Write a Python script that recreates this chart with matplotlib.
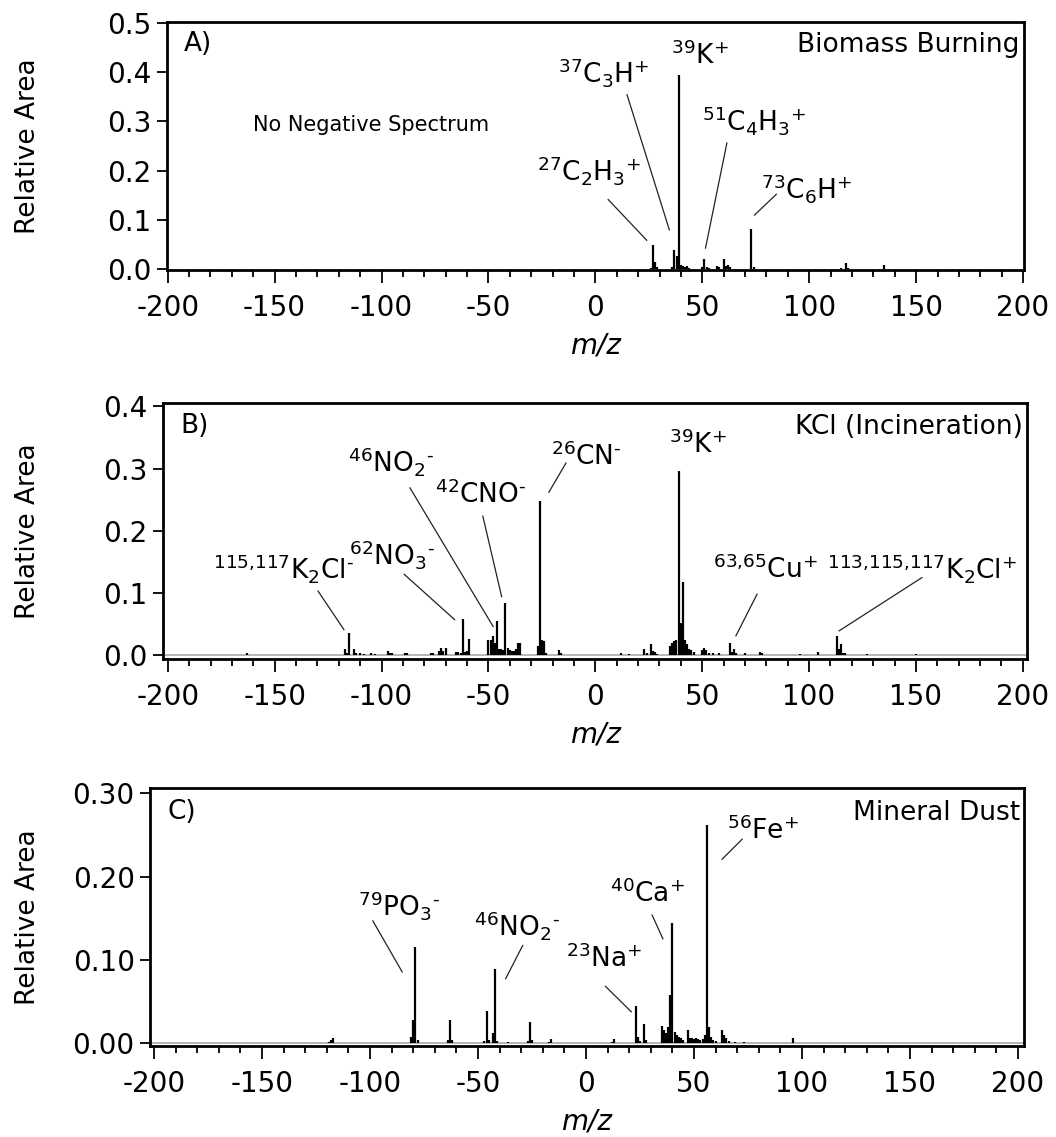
import matplotlib
matplotlib.use("Agg")
import matplotlib.pyplot as plt
from matplotlib.ticker import MultipleLocator, FixedLocator, FixedFormatter

plt.rcParams["font.family"] = ["DejaVu Sans"]
plt.rcParams["mathtext.fontset"] = "dejavusans"

# ---------------- spectra (m/z, relative area); negative m/z = anion spectrum ----------------
a_mz = [26, 27, 28, 29, 36, 37, 38, 39, 40, 41, 42, 43, 44, 50, 51, 52, 53,
        57, 58, 60, 61, 62, 63, 73, 74, 115, 117, 118, 135]
a_area = [0.003, 0.050, 0.014, 0.004, 0.004, 0.040, 0.027, 0.393, 0.008, 0.006,
          0.004, 0.006, 0.003, 0.005, 0.020, 0.004, 0.003, 0.006, 0.004, 0.020,
          0.006, 0.008, 0.004, 0.081, 0.004, 0.003, 0.012, 0.003, 0.008]

b_mz = [-163, -117, -116, -115, -113, -112, -110, -108, -105, -103, -97, -96, -95,
        -89, -88, -77, -76, -73, -72, -71, -70, -65, -64, -63, -62, -61, -60, -59,
        -50, -49, -48, -47, -46, -45, -44, -43, -42, -41, -40, -39, -38, -37, -36,
        -35, -27, -26, -25, -24, -23, -17, -16,
        12, 16, 23, 24, 26, 27, 28, 29, 35, 36, 37, 38, 39, 40, 41, 42, 43, 44, 45,
        46, 50, 51, 52, 53, 55, 58, 63, 64, 65, 66, 70, 77, 78, 96, 104, 113, 114,
        115, 116, 117, 127, 150]
b_area = [0.004, 0.009, 0.003, 0.035, 0.010, 0.003, 0.003, 0.002, 0.003, 0.002,
          0.007, 0.003, 0.004, 0.004, 0.004, 0.003, 0.004, 0.007, 0.012, 0.006,
          0.012, 0.005, 0.005, 0.004, 0.058, 0.005, 0.006, 0.026,
          0.025, 0.024, 0.030, 0.020, 0.054, 0.010, 0.010, 0.008, 0.083, 0.011,
          0.008, 0.007, 0.007, 0.010, 0.020, 0.020, 0.014, 0.248, 0.024, 0.022,
          0.004, 0.008, 0.003,
          0.003, 0.002, 0.010, 0.004, 0.018, 0.006, 0.005, 0.002, 0.015, 0.020,
          0.023, 0.025, 0.296, 0.052, 0.118, 0.025, 0.017, 0.010, 0.008, 0.005,
          0.008, 0.012, 0.008, 0.004, 0.003, 0.003, 0.020, 0.005, 0.009, 0.003,
          0.003, 0.005, 0.003, 0.002, 0.005, 0.031, 0.009, 0.017, 0.003, 0.004,
          0.002, 0.002]

c_mz = [-119, -118, -117, -81, -80, -79, -78, -64, -63, -62, -47, -46, -45, -43,
        -42, -41, -36, -27, -26, -25, -17, -16,
        12, 13, 23, 24, 25, 27, 28, 35, 36, 37, 38, 39, 40, 41, 42, 43, 44, 45,
        47, 48, 49, 50, 51, 52, 53, 54, 55, 56, 57, 58, 59, 60, 63, 64, 65, 66,
        69, 73, 96]
c_area = [0.002, 0.004, 0.006, 0.008, 0.028, 0.116, 0.004, 0.004, 0.028, 0.004,
          0.003, 0.039, 0.004, 0.012, 0.089, 0.003, 0.002, 0.003, 0.026, 0.004,
          0.002, 0.005,
          0.002, 0.005, 0.045, 0.008, 0.003, 0.023, 0.004, 0.021, 0.016, 0.012,
          0.020, 0.058, 0.144, 0.014, 0.010, 0.008, 0.006, 0.004,
          0.016, 0.007, 0.006, 0.005, 0.006, 0.005, 0.004, 0.005, 0.010, 0.262,
          0.020, 0.008, 0.004, 0.003, 0.016, 0.010, 0.006, 0.003,
          0.002, 0.002, 0.007]

# ---------------- y tick labels ----------------
a_yticks = [0.0, 0.1, 0.2, 0.3, 0.4, 0.5]
a_yticklabels = ["0.0", "0.1", "0.2", "0.3", "0.4", "0.5"]
b_yticks = [0.0, 0.1, 0.2, 0.3, 0.4]
b_yticklabels = ["0.0", "0.1", "0.2", "0.3", "0.4"]
c_yticks = [0.0, 0.1, 0.2, 0.3]
c_yticklabels = ["0.00", "0.10", "0.20", "0.30"]

x_ticks = [-200, -150, -100, -50, 0, 50, 100, 150, 200]
x_ticklabels = ["-200", "-150", "-100", "-50", "0", "50", "100", "150", "200"]

# ---------------- peak assignments ----------------
NEG = r"$^{\text{-}}$"
a_labels = [r"$^{27}$C$_2$H$_3$$^{+}$", r"$^{37}$C$_3$H$^{+}$", r"$^{39}$K$^{+}$",
            r"$^{51}$C$_4$H$_3$$^{+}$", r"$^{73}$C$_6$H$^{+}$"]
b_labels = [r"$^{115{,}117}$K$_2$Cl" + NEG, r"$^{62}$NO$_3$" + NEG, r"$^{46}$NO$_2$" + NEG,
            r"$^{42}$CNO" + NEG, r"$^{26}$CN" + NEG, r"$^{39}$K$^{+}$",
            r"$^{63{,}65}$Cu$^{+}$", r"$^{113{,}115{,}117}$K$_2$Cl$^{+}$"]
c_labels = [r"$^{79}$PO$_3$" + NEG, r"$^{46}$NO$_2$" + NEG, r"$^{23}$Na$^{+}$",
            r"$^{40}$Ca$^{+}$", r"$^{56}$Fe$^{+}$"]

# label anchor (x, y) and leader line ((x0, y0), (x1, y1)) in data units
a_label_pos = [(-3, 0.200), (4, 0.400), (49, 0.433), (74, 0.302), (99, 0.164)]
a_leaders = [((6, 0.1415), (24, 0.059)), ((14.8, 0.354), (34.6, 0.080)), None,
             ((61.5, 0.256), (51.5, 0.043)), ((84.6, 0.152), (74.4, 0.110))]
b_label_pos = [(-146, 0.140), (-95, 0.162), (-95.5, 0.311), (-53.8, 0.258),
               (-4, 0.319), (48, 0.338), (79.5, 0.138), (153, 0.140)]
b_leaders = [((-129.7, 0.103), (-117.6, 0.041)), ((-89.4, 0.130), (-65.8, 0.057)),
             ((-86.7, 0.269), (-47.8, 0.046)), ((-52.6, 0.2235), (-43.8, 0.094)),
             ((-13.7, 0.309), (-21.7, 0.262)), None,
             ((75.7, 0.098), (65.8, 0.031)), ((152.8, 0.1246), (114.1, 0.039))]
c_label_pos = [(-86.6, 0.165), (-32, 0.141), (8.5, 0.102), (28.5, 0.179), (82, 0.255)]
c_leaders = [((-98.7, 0.147), (-85.1, 0.0857)), ((-29.3, 0.1175), (-37.2, 0.0777)),
             ((9, 0.0685), (21, 0.0378)), ((30.6, 0.154), (35.6, 0.1255)),
             ((72.3, 0.245), (63, 0.221))]

W, H = 1056, 1137
fig = plt.figure(figsize=(W / 100, H / 100), dpi=100)

panels = [
    dict(rect=[0.1578, 0.7625, 0.8120, 0.2184], xlim=(-200.5, 200.5), ylim=(-0.0014, 0.502),
         mz=a_mz, area=a_area, yt=a_yticks, ytl=a_yticklabels, tag="A)",
         title="Biomass Burning", labels=a_labels, pos=a_label_pos, leaders=a_leaders,
         baseline=False),
    dict(rect=[0.1544, 0.4201, 0.8182, 0.2257], xlim=(-202.2, 202.0), ylim=(-0.0069, 0.406),
         mz=b_mz, area=b_area, yt=b_yticks, ytl=b_yticklabels, tag="B)",
         title="KCl (Incineration)", labels=b_labels, pos=b_label_pos, leaders=b_leaders,
         baseline=True),
    dict(rect=[0.1420, 0.0800, 0.8277, 0.2266], xlim=(-201.9, 202.8), ylim=(-0.0032, 0.306),
         mz=c_mz, area=c_area, yt=c_yticks, ytl=c_yticklabels, tag="C)",
         title="Mineral Dust", labels=c_labels, pos=c_label_pos, leaders=c_leaders,
         baseline=True),
]

for p in panels:
    ax = fig.add_axes(p["rect"])
    ax.set_xlim(*p["xlim"])
    ax.set_ylim(*p["ylim"])
    if p["baseline"]:
        ax.axhline(0, color="#b0b0b0", lw=1.3, zorder=1)
    ax.vlines(p["mz"], 0, p["area"], color="black", lw=1.6, zorder=2)

    for s in ax.spines.values():
        s.set_linewidth(2.0)
    ax.xaxis.set_major_locator(FixedLocator(x_ticks))
    ax.xaxis.set_major_formatter(FixedFormatter(x_ticklabels))
    ax.xaxis.set_minor_locator(MultipleLocator(10))
    ax.yaxis.set_major_locator(FixedLocator(p["yt"]))
    ax.yaxis.set_major_formatter(FixedFormatter(p["ytl"]))
    ax.tick_params(axis="x", which="major", direction="out", length=9, width=1.3,
                   labelsize=20, pad=8)
    ax.tick_params(axis="x", which="minor", direction="out", length=5, width=1.3)
    ax.tick_params(axis="y", which="major", direction="out", length=7, width=1.3,
                   labelsize=20, pad=4)

    ax.set_xlabel("m/z", fontsize=20, style="italic", labelpad=7)
    ax.set_ylabel("Relative Area", fontsize=19, va="center")
    ycen = p["rect"][1] + p["rect"][3] / 2
    ax.yaxis.set_label_coords(28 / W, ycen, transform=fig.transFigure)

    ax.text(0.02, 0.91, p["tag"], transform=ax.transAxes, fontsize=19,
            ha="left", va="center")
    ax.text(0.995, 0.905, p["title"], transform=ax.transAxes, fontsize=19,
            ha="right", va="center")

    for lab, (tx, ty), ld in zip(p["labels"], p["pos"], p["leaders"]):
        ax.text(tx, ty, lab, fontsize=19, ha="center", va="center")
        if ld is not None:
            (x0, y0), (x1, y1) = ld
            ax.plot([x0, x1], [y0, y1], color="#222222", lw=0.9)

    if p["tag"] == "A)":
        ax.text(-160, 0.292, "No Negative Spectrum", fontsize=15, ha="left", va="center")

fig.savefig("out.png", dpi=100)
